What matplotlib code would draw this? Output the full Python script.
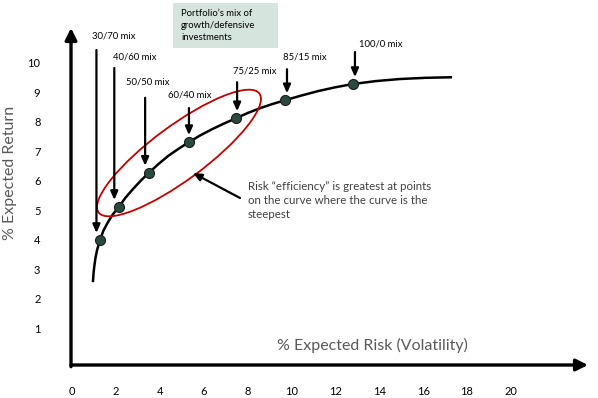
import matplotlib
matplotlib.use("Agg")
import matplotlib.pyplot as plt
from matplotlib.patches import Ellipse, Rectangle

plt.rcParams['font.family'] = ['Lato', 'DejaVu Sans']

# ---- data ----
mix_labels = ["30/70 mix", "40/60 mix", "50/50 mix", "60/40 mix", "75/25 mix", "85/15 mix", "100/0 mix"]
mix_risk = [1.26, 2.12, 3.49, 5.32, 7.47, 9.70, 12.80]
mix_return = [3.99, 5.11, 6.27, 7.31, 8.12, 8.73, 9.28]

curve_risk = [0.94, 0.97, 1.01, 1.06, 1.13, 1.26, 1.42, 1.63, 1.86, 2.12, 2.42,
              2.77, 3.12, 3.49, 3.92, 4.37, 4.84, 5.32, 5.84, 6.38, 6.92, 7.47,
              8.01, 8.56, 9.12, 9.70, 10.45, 11.21, 12.00, 12.80, 13.85, 14.95,
              16.10, 17.32]
curve_return = [2.56, 2.88, 3.14, 3.40, 3.65, 3.99, 4.31, 4.60, 4.87, 5.11, 5.42,
                5.72, 6.00, 6.27, 6.56, 6.84, 7.08, 7.31, 7.54, 7.75, 7.94, 8.12,
                8.30, 8.46, 8.60, 8.73, 8.89, 9.04, 9.17, 9.28, 9.38, 9.45,
                9.49, 9.51]

x_ticks = [0, 2, 4, 6, 8, 10, 12, 14, 16, 18, 20]
y_ticks = [1, 2, 3, 4, 5, 6, 7, 8, 9, 10]

# label placement relative to each point (pixels)
label_offsets = [204, 150, 91, 47, 47, 43, 40]
label_dx = [-8, -6, -23, -21, -3, -2, 6]
arrow_start = [190, 139, 75, 34, 36, 31, 32]
arrow_dx = [-3.5, -4.5, -3.7, 0, 1, 2, 2]

W, H = 598, 398
fig = plt.figure(figsize=(W / 100, H / 100), dpi=100)
fig.patch.set_facecolor('white')

ax = fig.add_axes([71 / W, (H - 365) / H, (588 - 71) / W, (365 - 28) / H])
ax.set_xlim(-0.06, 23.52)
ax.set_ylim(-0.25, 11.18)
for s in ax.spines.values():
    s.set_visible(False)
ax.set_facecolor('none')

ax.set_xticks(x_ticks)
ax.set_xticklabels([str(v) for v in x_ticks])
ax.set_yticks(y_ticks)
ax.set_yticklabels([str(v) for v in y_ticks])
ax.tick_params(axis='x', length=0, pad=15, labelsize=8, labelcolor='black')
ax.tick_params(axis='y', length=0, pad=22, labelsize=8, labelcolor='black')

# axis arrows
ax.annotate('', xy=(1.0, 0.0), xytext=(0.0, 0.0), xycoords='axes fraction',
            arrowprops=dict(arrowstyle='-|>,head_length=0.7,head_width=0.35',
                            lw=2.4, color='black', shrinkA=0, shrinkB=0))
ax.annotate('', xy=(0.0, 1.0), xytext=(0.0, -0.005), xycoords='axes fraction',
            arrowprops=dict(arrowstyle='-|>,head_length=0.7,head_width=0.35',
                            lw=2.4, color='black', shrinkA=0, shrinkB=0))

# curve and points
ax.plot(curve_risk, curve_return, color='black', lw=1.8, zorder=3, solid_capstyle='butt')
ax.scatter(mix_risk, mix_return, s=52, color='#2b4a3f', edgecolor='#1a1a1a', lw=0.8, zorder=4)

# axis titles
fig.text(372 / W, 1 - 345 / H, '% Expected Risk (Volatility)', fontsize=11.5,
         color='#595959', ha='center', va='center')
fig.text(10 / W, 1 - 173 / H, '% Expected Return', fontsize=11.5, color='#595959',
         ha='center', va='center', rotation=90)

# overlay in pixel coordinates for the annotations
ov = fig.add_axes([0, 0, 1, 1])
ov.set_xlim(0, W)
ov.set_ylim(H, 0)
ov.axis('off')
ov.set_zorder(5)
ov.patch.set_alpha(0)


def to_px(x, y):
    disp = ax.transData.transform((x, y))
    return ov.transData.inverted().transform(disp)


for lab, xr, yr, lo, ldx, st, dx in zip(mix_labels, mix_risk, mix_return,
                                         label_offsets, label_dx, arrow_start, arrow_dx):
    px, py = to_px(xr, yr)
    ov.annotate('', xy=(px + dx, py - 7), xytext=(px + dx, py - st),
                arrowprops=dict(arrowstyle='-|>,head_length=0.5,head_width=0.22',
                                lw=1.6, color='black', shrinkA=0, shrinkB=0))
    ov.text(px + ldx, py - lo, lab, fontsize=6.8, color='black', ha='left', va='center')

# red ellipse
ov.add_patch(Ellipse((179, 153), 200, 54, angle=-36.5, fill=False,
                     edgecolor='#c00000', lw=1.3))

# info box
ov.add_patch(Rectangle((173, 3), 105, 45, facecolor='#d5e5de', edgecolor='none'))
ov.text(181, 13, "Portfolio’s mix of", fontsize=6.8, va='center', ha='left', color='black')
ov.text(181, 25, "growth/defensive", fontsize=6.8, va='center', ha='left', color='black')
ov.text(181, 37, "investments", fontsize=6.8, va='center', ha='left', color='black')

# efficiency annotation
ov.annotate('', xy=(193, 173), xytext=(240, 198),
            arrowprops=dict(arrowstyle='-|>,head_length=0.5,head_width=0.22',
                            lw=1.6, color='black', shrinkA=0, shrinkB=0))
ov.text(248, 186, "Risk “efficiency” is greatest at points", fontsize=8.3,
        color='#404040', va='center', ha='left')
ov.text(248, 200, "on the curve where the curve is the", fontsize=8.3,
        color='#404040', va='center', ha='left')
ov.text(248, 214, "steepest", fontsize=8.3, color='#404040', va='center', ha='left')

fig.savefig('out.png', dpi=100, facecolor='white')
